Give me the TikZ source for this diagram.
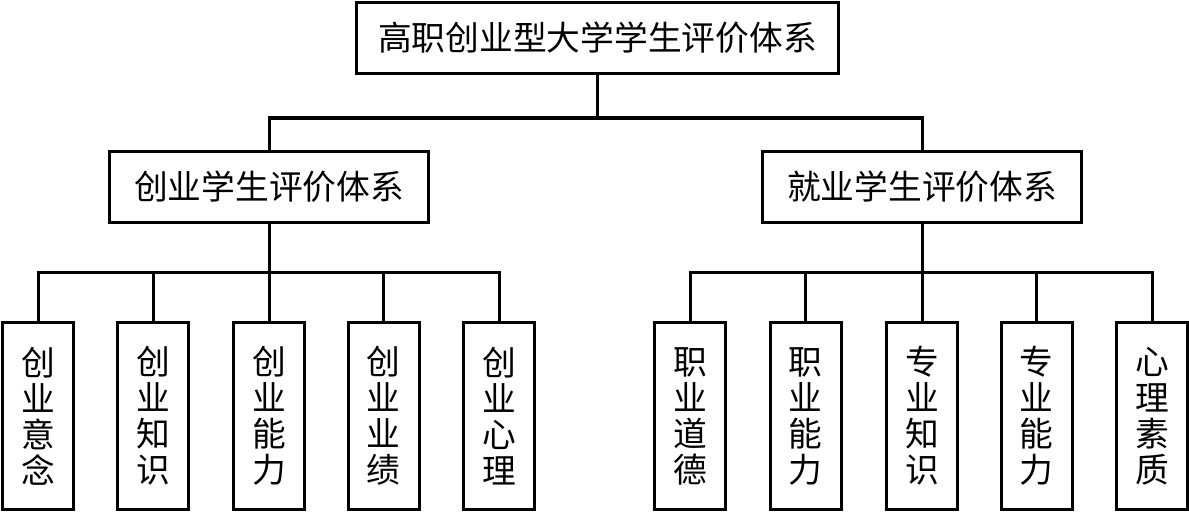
\documentclass[tikz,border=0pt]{standalone}
\usepackage{fontspec}
\newfontfamily\cjk{Noto Sans CJK SC}
\usetikzlibrary{positioning}

\begin{document}
\begin{tikzpicture}[x=0.025cm, y=-0.025cm, line width=0.075cm,
  box/.style={draw, line width=0.075cm, inner sep=0pt, align=center,
    font=\cjk\fontsize{24}{25.6}\selectfont},
  topbox/.style={box, minimum width=12.025cm, minimum height=1.75cm},
  midbox/.style={box, minimum width=7.95cm, minimum height=1.75cm},
  leafbox/.style={box, minimum width=1.775cm, minimum height=4.65cm}]
  \useasboundingbox (0,0) rectangle (1189,512);

  % Top level
  \node[topbox] (gz) at (597.5,38) {高职创业型大学学生评价体系};

  % Second level
  \node[midbox] (cy) at (269,187) {创业学生评价体系};
  \node[midbox] (jy) at (922,187) {就业学生评价体系};

  % Leaves: entrepreneurship
  \node[leafbox] (cy1) at (38,416) {创\\业\\意\\念};
  \node[leafbox] (cy2) at (153.3,416) {创\\业\\知\\识};
  \node[leafbox] (cy3) at (269,416) {创\\业\\能\\力};
  \node[leafbox] (cy4) at (383.8,416) {创\\业\\业\\绩};
  \node[leafbox] (cy5) at (499,416) {创\\业\\心\\理};

  % Leaves: employment
  \node[leafbox] (jy1) at (690,416) {职\\业\\道\\德};
  \node[leafbox] (jy2) at (805.5,416) {职\\业\\能\\力};
  \node[leafbox] (jy3) at (922,416) {专\\业\\知\\识};
  \node[leafbox] (jy4) at (1036.5,416) {专\\业\\能\\力};
  \node[leafbox] (jy5) at (1152,416) {心\\理\\素\\质};

  % Connectors
  \coordinate (busA) at (0,118);
  \coordinate (busB) at (0,272);
  \draw (gz.south) -- (gz.south |- busA);
  \draw (cy.north) -- (cy.north |- busA) -- (jy.north |- busA) -- (jy.north);

  \draw (cy.south) -- (cy.south |- busB);
  \draw (cy1.north) -- (cy1.north |- busB) -- (cy5.north |- busB) -- (cy5.north);
  \draw (jy.south) -- (jy.south |- busB);
  \draw (jy1.north) -- (jy1.north |- busB) -- (jy5.north |- busB) -- (jy5.north);
  \foreach \i in {2,3,4} {
    \draw (cy\i.north) -- (cy\i.north |- busB);
    \draw (jy\i.north) -- (jy\i.north |- busB);
  }
\end{tikzpicture}
\end{document}
